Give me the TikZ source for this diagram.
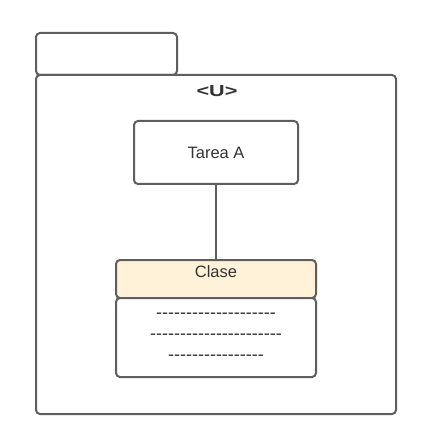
\documentclass[tikz,border=0pt]{standalone}
\usepackage{fontspec}
\setmainfont{Liberation Sans}
\newfontfamily\dashfont{Liberation Sans}
\begin{document}
\begin{tikzpicture}[x=1pt,y=-1pt,
  box/.style={draw=linegray,line width=2pt,rounded corners=4pt},
  lbl/.style={text=textgray,font=\fontsize{16.5}{19}\selectfont,inner sep=0pt,anchor=base},
  dashline/.style={text=textgray,font=\dashfont\fontsize{18}{20}\selectfont,inner sep=0pt,anchor=base}]
\definecolor{linegray}{HTML}{5E5E5E}
\definecolor{textgray}{HTML}{333333}
\definecolor{beige}{HTML}{FFF2D9}
\useasboundingbox (0,0) rectangle (442,441);
\draw[box,fill=white] (36,33) rectangle (177,75);
\draw[box,fill=white] (36,75) rectangle (396,414);
\node[lbl,font=\bfseries\fontsize{16}{18}\selectfont,xscale=1.35] (u) at (217,97) {<U>};
\node[box,minimum width=164pt,minimum height=63pt,inner sep=0pt] (tarea) at (216,152.5) {};
\node[lbl] (tl) at (216,159) {Tarea A};
\node[box,fill=beige,minimum width=200pt,minimum height=38pt,inner sep=0pt] (clase) at (216,279) {};
\node[lbl] (cl) at (216,277.5) {Clase};
\node[box,fill=white,minimum width=200pt,minimum height=79pt,inner sep=0pt] (body) at (216,337.5) {};
\node[dashline] (d1) at (216,318) {--------------------};
\node[dashline] (d2) at (216,339) {----------------------};
\node[dashline] (d3) at (216,360) {----------------};
\draw[linegray,line width=1.3pt] (tarea.south) -- (clase.north);
\end{tikzpicture}
\end{document}
